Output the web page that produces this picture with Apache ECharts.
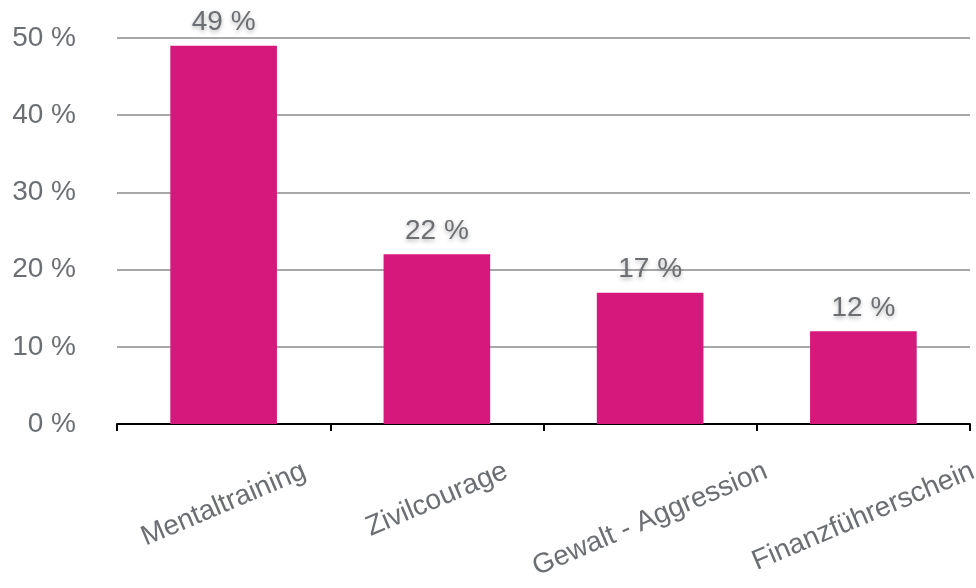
<!doctype html>
<html>
	<head>
		<meta charset="UTF-8">
		<title></title>
		<script src="https://cdn.jsdelivr.net/npm/echarts@6/dist/echarts.min.js"></script>
		<style>
			html, body { margin: 0; padding: 0; background: #fff; }
			#chart { width: 976px; height: 588px; }
		</style>
	</head>
	<body>
		<div id="chart"></div>
		<script type="text/javascript">
			// Kategorien und Werte (in %)
			var kategorien = ['Mentaltraining', 'Zivilcourage', 'Gewalt - Aggression', 'Finanzführerschein'];
			var werte = [49, 22, 17, 12];
			var yTicks = [0, 10, 20, 30, 40, 50];

			var grau = '#6b6e72';
			var schrift = 'Liberation Sans, Arial, sans-serif';
			var winkel = 23;
			var zeile = 32;

			// Beschriftungen zentriert unter der Kategorie, oben buendig:
			// je laenger der Text, desto weiter nach unten (per padding im gedrehten Rahmen)
			var ctx = document.createElement('canvas').getContext('2d');
			ctx.font = '28px ' + schrift;
			var rad = winkel * Math.PI / 180;
			var xDaten = kategorien.map(function (name) {
				var d = 20 + ctx.measureText(name).width / 2 * Math.sin(rad);
				return {
					value: name,
					textStyle: {
						align: 'center',
						verticalAlign: 'top',
						lineHeight: zeile,
						padding: [d * Math.cos(rad) - zeile / 2, 2 * d * Math.sin(rad), 0, 0]
					}
				};
			});

			var myChart = echarts.init(document.getElementById('chart'));
			var option = {
				animation: false,
				grid: {
					left: 117,
					right: 6,
					top: 38,
					bottom: 164,
					outerBoundsMode: 'none',
					containLabel: false
				},
				xAxis: {
					type: 'category',
					data: xDaten,
					axisLine: { lineStyle: { color: '#000', width: 2 } },
					axisTick: { show: true, length: 7, lineStyle: { color: '#000', width: 2 } },
					axisLabel: {
						interval: 0,
						rotate: winkel,
						margin: 26,
						fontFamily: schrift,
						fontSize: 28,
						color: grau
					}
				},
				yAxis: {
					type: 'value',
					min: yTicks[0],
					max: yTicks[yTicks.length - 1],
					interval: 10,
					axisLine: { show: false },
					axisTick: { show: false },
					splitLine: { lineStyle: { color: '#a8a8a8', width: 2 } },
					axisLabel: {
						formatter: '{value} %',
						margin: 41,
						fontFamily: schrift,
						fontSize: 28,
						color: grau
					}
				},
				series: [{
					type: 'bar',
					data: werte,
					barWidth: '50%',
					itemStyle: { color: '#d6177c' },
					label: {
						show: true,
						position: 'top',
						distance: 9,
						formatter: '{c} %',
						fontFamily: schrift,
						fontSize: 28,
						color: grau,
						textShadowColor: 'rgba(0,0,0,0.3)',
						textShadowBlur: 4,
						textShadowOffsetY: 2
					}
				}]
			};
			myChart.setOption(option);
		</script>
	</body>
</html>
